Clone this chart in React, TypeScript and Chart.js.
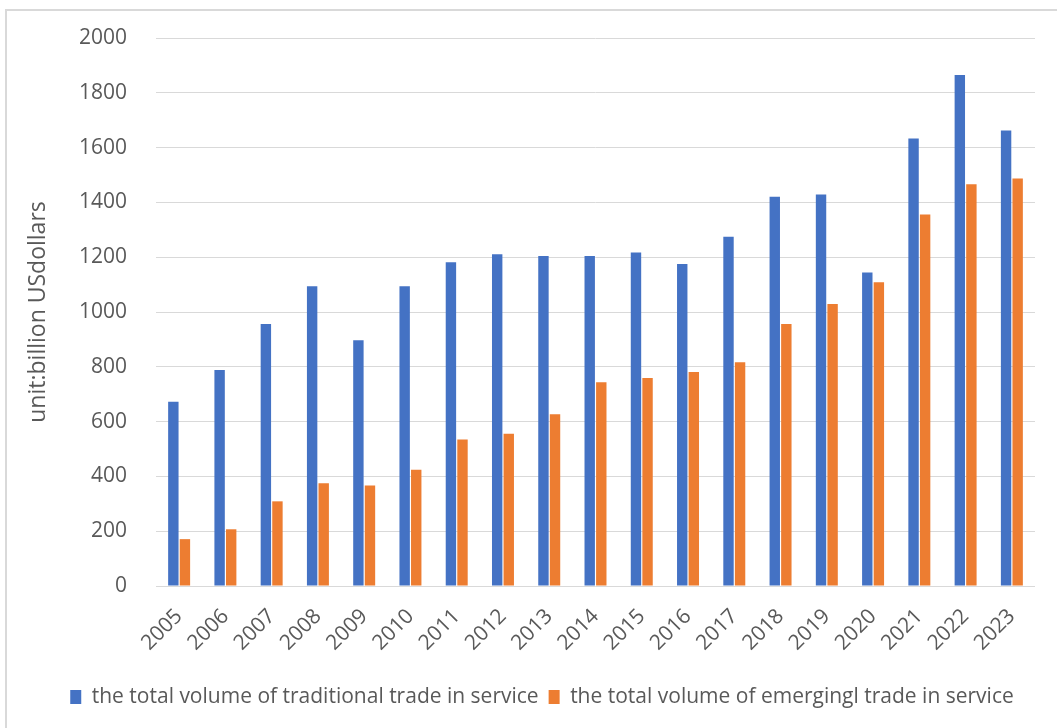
import React, { useEffect, useRef } from "react";
import { Chart, registerables } from "chart.js";

Chart.register(...registerables);

const years = [
  "2005", "2006", "2007", "2008", "2009", "2010", "2011", "2012", "2013", "2014",
  "2015", "2016", "2017", "2018", "2019", "2020", "2021", "2022", "2023",
];

const traditional = [
  672, 788, 956, 1094, 897, 1094, 1182, 1211, 1204, 1204,
  1217, 1175, 1275, 1421, 1429, 1144, 1633, 1865, 1662,
];

const emerging = [
  171, 207, 309, 375, 367, 424, 535, 556, 627, 744,
  759, 781, 817, 956, 1029, 1109, 1356, 1466, 1487,
];

const seriesNames = [
  "the total volume of traditional trade in service",
  "the total volume of emergingl trade in service",
];

const yMin = 0;
const yMax = 2000;
const yStep = 200;
const yTitle = "unit:billion USdollars";

const FONT = "'Open Sans', 'DejaVu Sans', sans-serif";
const TEXT = "#595959";

export default function App() {
  const ref = useRef<HTMLCanvasElement>(null);

  useEffect(() => {
    const canvas = ref.current;
    if (!canvas) return;
    const chart = new Chart(canvas, {
      type: "bar",
      data: {
        labels: years,
        datasets: [
          {
            label: seriesNames[0],
            data: traditional,
            backgroundColor: "#4472C4",
            categoryPercentage: 0.5,
            barPercentage: 0.9,
          },
          {
            label: seriesNames[1],
            data: emerging,
            backgroundColor: "#ED7D31",
            categoryPercentage: 0.5,
            barPercentage: 0.9,
          },
        ],
      },
      options: {
        responsive: false,
        animation: false,
        devicePixelRatio: 1,
        layout: { padding: { left: 21, top: 38, right: 0, bottom: 10.5 } },
        plugins: {
          legend: {
            position: "bottom",
            labels: {
              boxWidth: 11,
              boxHeight: 14,
              padding: 10,
              color: TEXT,
              font: { size: 21, family: FONT },
            },
          },
          tooltip: { enabled: false },
        },
        scales: {
          x: {
            grid: { display: false, drawTicks: false },
            border: { display: false },
            ticks: {
              minRotation: 45,
              maxRotation: 45,
              autoSkip: false,
              padding: 18,
              labelOffset: 0,
              color: TEXT,
              font: { size: 21, family: FONT },
            },
            afterFit: (s: any) => {
              s.height = 90.5;
              s.paddingRight = 28;
              s.paddingLeft = 0;
            },
          },
          y: {
            min: yMin,
            max: yMax,
            ticks: {
              stepSize: yStep,
              padding: 29,
              color: TEXT,
              font: { size: 21, family: FONT },
              callback: (v: any) => String(v),
            },
            grid: { color: "#d9d9d9", lineWidth: 1, drawTicks: false },
            border: { display: false },
            title: {
              display: true,
              text: yTitle,
              color: TEXT,
              font: { size: 23, family: FONT },
              padding: { top: 4, bottom: 4 },
            },
            afterFit: (s: any) => {
              s.width = 135;
              s.paddingTop = 0;
              s.paddingBottom = 0;
            },
          },
        },
      },
    });
    return () => chart.destroy();
  }, []);

  return (
    <div
      style={{
        position: "fixed",
        left: 0,
        top: 0,
        width: 1057,
        height: 728,
        overflow: "hidden",
        background: "#ffffff",
      }}
    >
      <div
        style={{
          position: "absolute",
          left: 5,
          top: 9,
          width: 1100,
          height: 800,
          border: "2px solid #d9d9d9",
          boxSizing: "border-box",
        }}
      />
      <canvas
        ref={ref}
        width={1063}
        height={728}
        style={{ position: "absolute", left: 0, top: 0, width: 1063, height: 728 }}
      />
    </div>
  );
}
